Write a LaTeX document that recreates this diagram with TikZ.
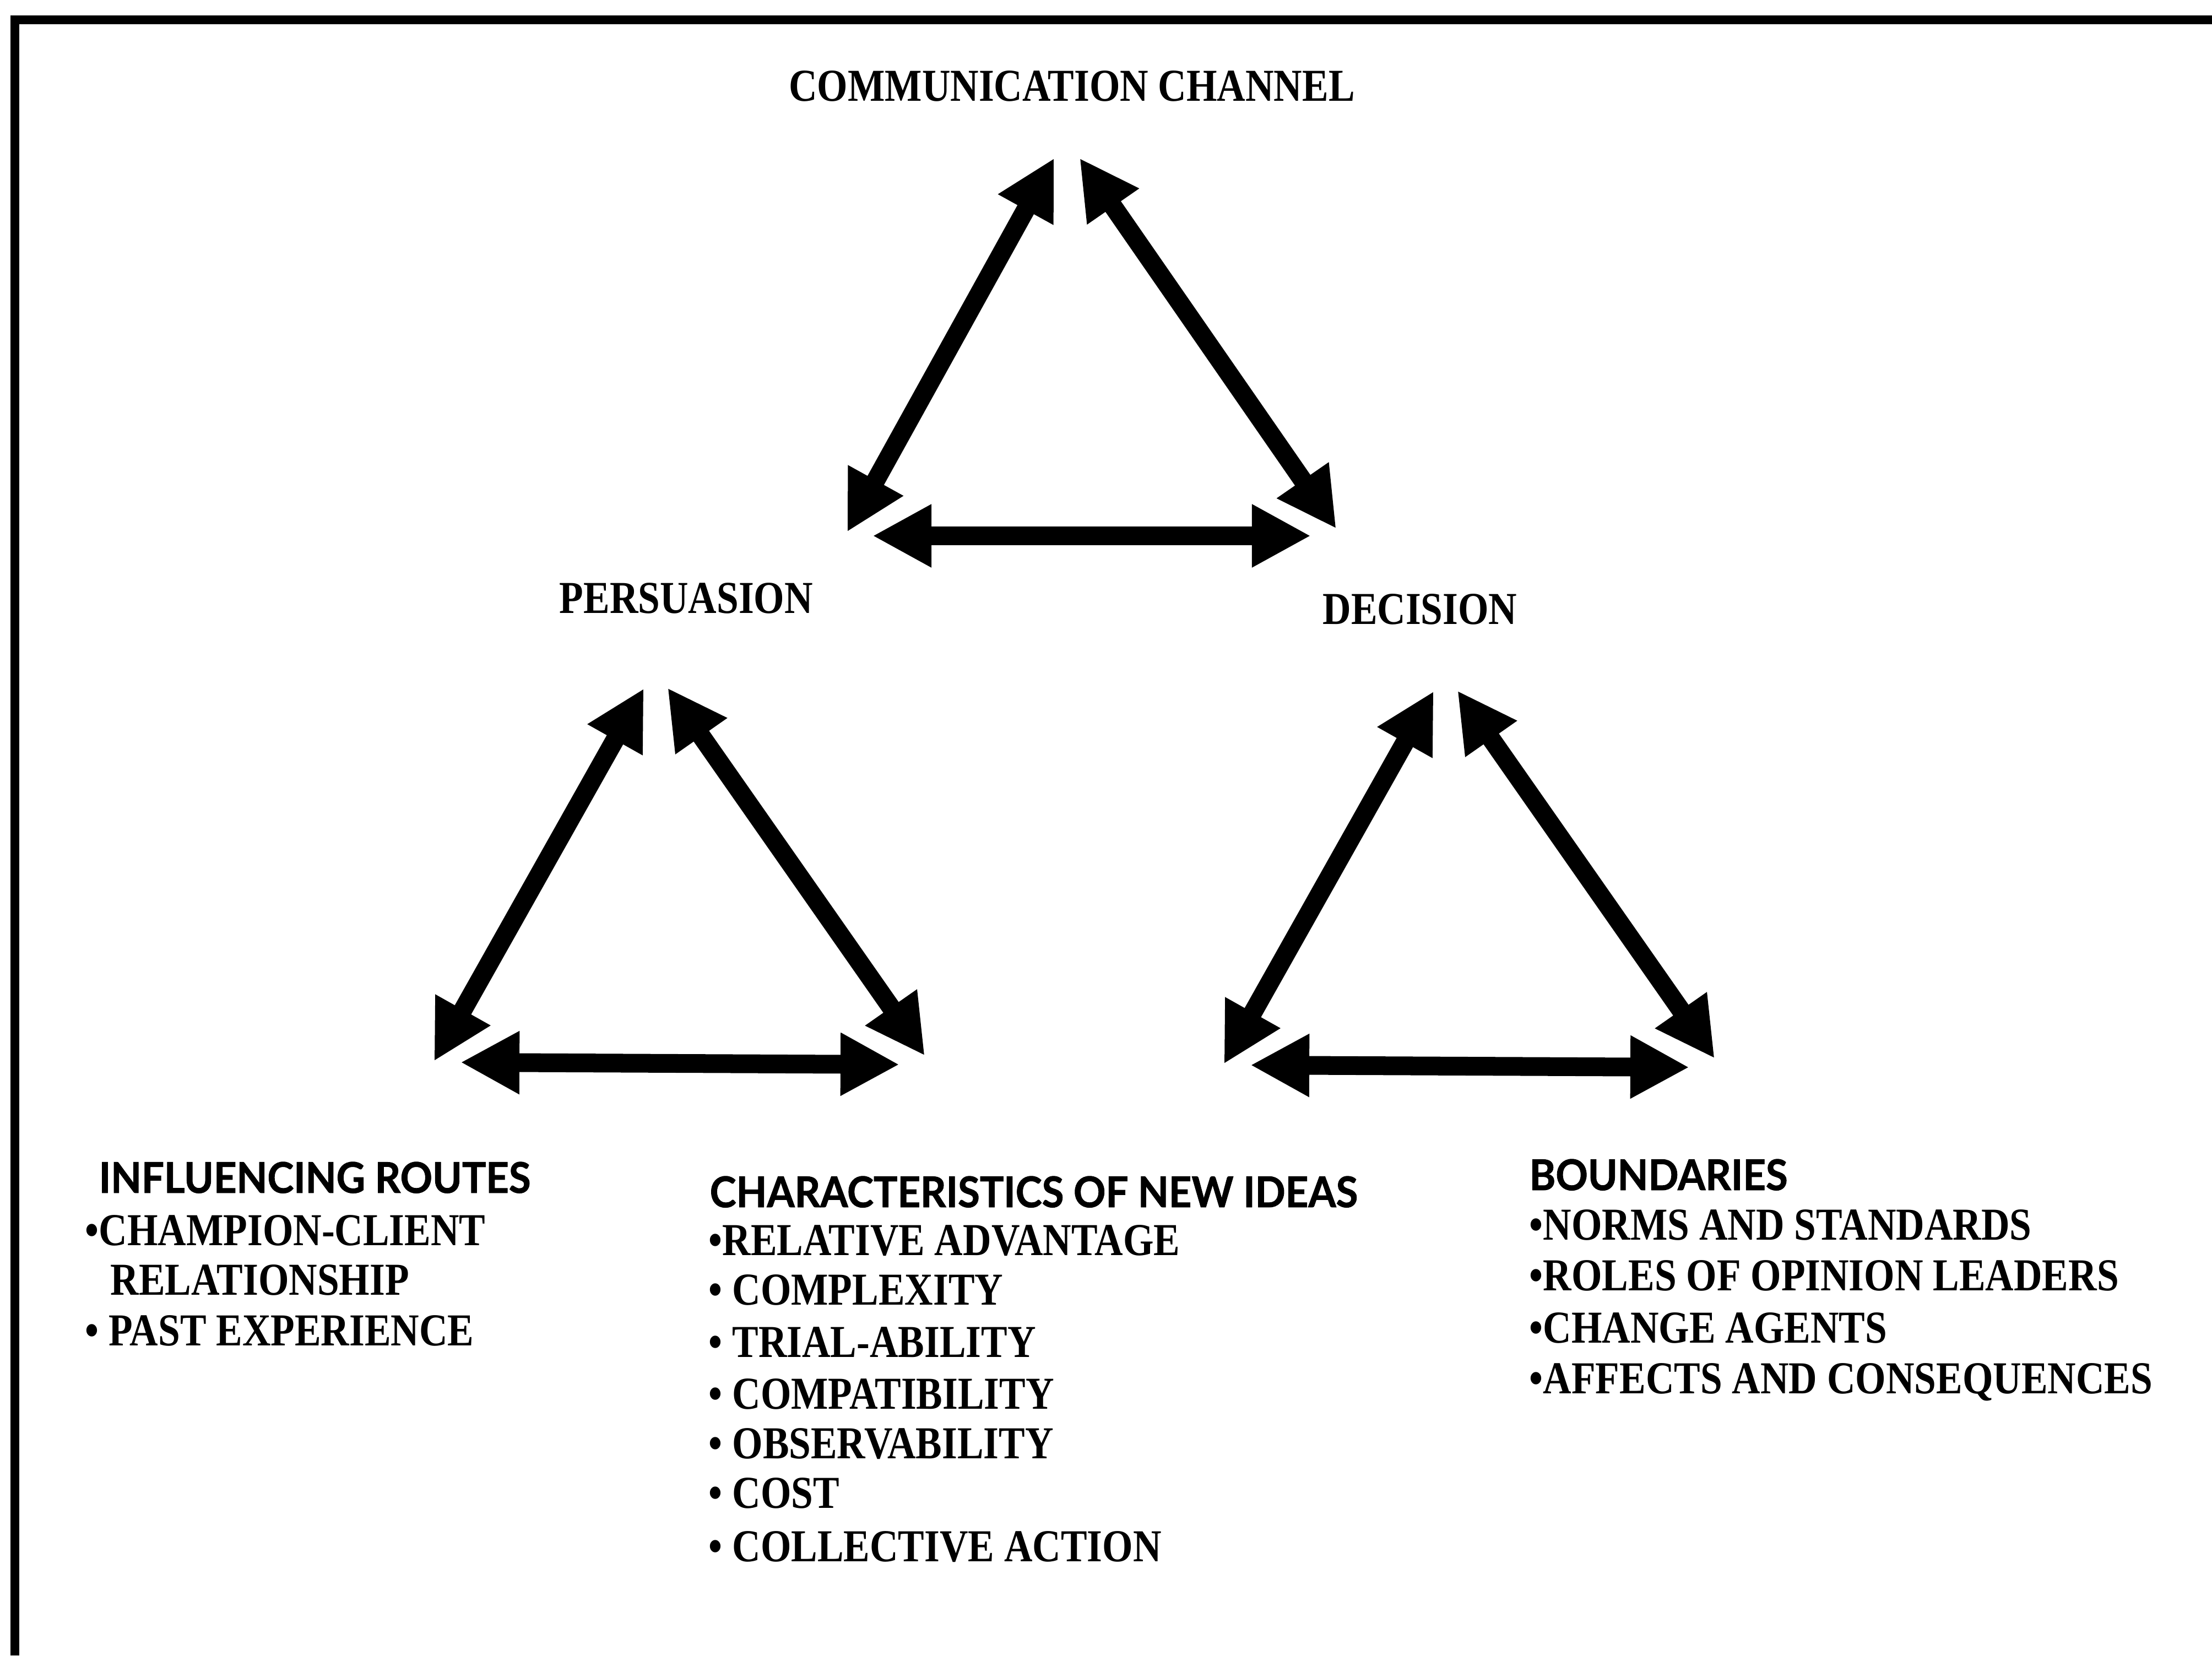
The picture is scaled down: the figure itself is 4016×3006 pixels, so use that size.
\documentclass[tikz,border=0pt]{standalone}
\usepackage{fontspec}
\setmainfont{Liberation Serif}
\newfontfamily\labelserif{Liberation Serif}[FakeStretch=0.86]
\newfontfamily\headsans{Lato}[FakeStretch=0.94, FakeBold=1.2]
\usetikzlibrary{arrows.meta}

\tikzset{
  lbl/.style={inner sep=0pt, font=\labelserif\bfseries\fontsize{23.6pt}{28pt}\selectfont},
  item/.style={lbl, anchor=base west},
  heading/.style={inner sep=0pt, anchor=base west, font=\headsans\bfseries\fontsize{21.9pt}{26pt}\selectfont},
  twoway/.style={line width=0.34cm,
    {Triangle[length=1.07cm,width=1.07cm]}-{Triangle[length=1.07cm,width=1.07cm]}},
  frameline/.style={line width=0.16cm, line join=miter}
}

\begin{document}
\begin{tikzpicture}[x=0.01cm, y=-0.01cm]
\useasboundingbox (0,0) rectangle (4016,3006);

% outer frame (top and left edges)
\coordinate (fb) at (27,3006);
\coordinate (fc) at (27,36);
\coordinate (fr) at (4016,36);
\draw[frameline] (fb) -- (fc) -- (fr);

% main labels
\node[lbl, anchor=base] (comm) at (1946,184) {COMMUNICATION CHANNEL};
\node[lbl, anchor=base] (pers) at (1246,1113) {PERSUASION};
\node[lbl, anchor=base] (deci) at (2578,1133) {DECISION};

% upper triangle
\coordinate (a1) at (1914,287);
\coordinate (a2) at (1538,966);
\coordinate (a3) at (1960,287);
\coordinate (a4) at (2426,960);
\coordinate (a5) at (1584,973);
\coordinate (a6) at (2380,973);
\draw[twoway] (a1) -- (a2);
\draw[twoway] (a3) -- (a4);
\draw[twoway] (a5) -- (a6);

% persuasion triangle
\coordinate (b1) at (1169,1250);
\coordinate (b2) at (788,1927);
\coordinate (b3) at (1212,1249);
\coordinate (b4) at (1679,1917);
\coordinate (b5) at (836,1929);
\coordinate (b6) at (1633,1933);
\draw[twoway] (b1) -- (b2);
\draw[twoway] (b3) -- (b4);
\draw[twoway] (b5) -- (b6);

% decision triangle
\coordinate (c1) at (2603,1255);
\coordinate (c2) at (2222,1932);
\coordinate (c3) at (2646,1254);
\coordinate (c4) at (3113,1922);
\coordinate (c5) at (2270,1934);
\coordinate (c6) at (3067,1938);
\draw[twoway] (c1) -- (c2);
\draw[twoway] (c3) -- (c4);
\draw[twoway] (c5) -- (c6);

% influencing routes
\node[heading] (r0) at (179,2166) {INFLUENCING ROUTES};
\node[item] (r1) at (154,2261) {•CHAMPION-CLIENT};
\node[item] (r2) at (200,2351) {RELATIONSHIP};
\node[item] (r3) at (154,2443) {• PAST EXPERIENCE};

% characteristics of new ideas
\node[heading] (k0) at (1288,2192) {CHARACTERISTICS OF NEW IDEAS};
\node[item] (k1) at (1286,2279) {•RELATIVE ADVANTAGE};
\node[item] (k2) at (1286,2369) {• COMPLEXITY};
\node[item] (k3) at (1286,2464) {• TRIAL-ABILITY};
\node[item] (k4) at (1286,2558) {• COMPATIBILITY};
\node[item] (k5) at (1286,2648) {• OBSERVABILITY};
\node[item] (k6) at (1286,2738) {• COST};
\node[item] (k7) at (1286,2835) {• COLLECTIVE ACTION};

% boundaries
\node[heading] (d0) at (2776,2161) {BOUNDARIES};
\node[item] (d1) at (2776,2251) {•NORMS AND STANDARDS};
\node[item] (d2) at (2776,2343) {•ROLES OF OPINION LEADERS};
\node[item] (d3) at (2776,2438) {•CHANGE AGENTS};
\node[item] (d4) at (2776,2530) {•AFFECTS AND CONSEQUENCES};
\end{tikzpicture}
\end{document}
